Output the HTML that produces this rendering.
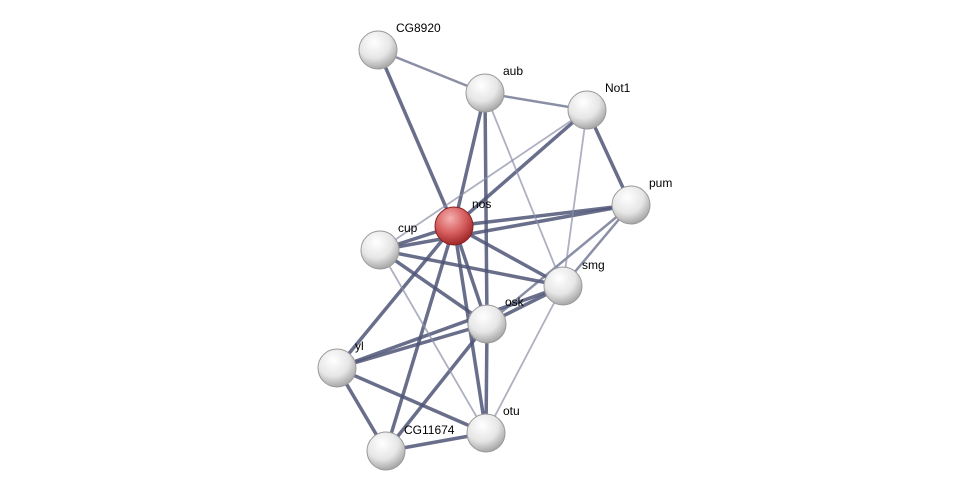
<!DOCTYPE html>
<html><head><meta charset="utf-8"><style>
html,body{margin:0;padding:0;background:#fff;}
svg text{font-family:"Liberation Sans",sans-serif;font-size:12px;fill:#000;}
</style></head><body>
<svg width="976" height="497" viewBox="0 0 976 497" xmlns="http://www.w3.org/2000/svg">
<defs>
<radialGradient id="g" cx="40%" cy="30%" r="70%">
<stop offset="0" stop-color="#ffffff"/><stop offset="0.6" stop-color="#e6e6e6"/><stop offset="1" stop-color="#a8a8a8"/>
</radialGradient>
<radialGradient id="r" cx="40%" cy="30%" r="70%">
<stop offset="0" stop-color="#f4b0b0"/><stop offset="0.55" stop-color="#d86060"/><stop offset="1" stop-color="#a02828"/>
</radialGradient>
</defs>
<g stroke-linecap="round">
<g stroke="#4f5575" stroke-opacity="0.85" stroke-width="3.5">
<line x1="378" y1="50" x2="454" y2="226"/>
<line x1="485" y1="93" x2="454" y2="226"/>
<line x1="485" y1="93" x2="487" y2="324"/>
<line x1="587" y1="110" x2="454" y2="226"/>
<line x1="587" y1="110" x2="631" y2="205"/>
<line x1="631" y1="205" x2="454" y2="226"/>
<line x1="631" y1="205" x2="380" y2="250"/>
<line x1="454" y1="226" x2="380" y2="250"/>
<line x1="454" y1="226" x2="563" y2="286"/>
<line x1="454" y1="226" x2="487" y2="324"/>
<line x1="454" y1="226" x2="337" y2="368"/>
<line x1="454" y1="226" x2="386" y2="451"/>
<line x1="454" y1="226" x2="486" y2="433"/>
<line x1="380" y1="250" x2="563" y2="286"/>
<line x1="380" y1="250" x2="487" y2="324"/>
<line x1="563" y1="286" x2="487" y2="324"/>
<line x1="563" y1="286" x2="337" y2="368"/>
<line x1="487" y1="324" x2="337" y2="368"/>
<line x1="487" y1="324" x2="486" y2="433"/>
<line x1="487" y1="324" x2="386" y2="451"/>
<line x1="337" y1="368" x2="486" y2="433"/>
<line x1="337" y1="368" x2="386" y2="451"/>
<line x1="386" y1="451" x2="486" y2="433"/>
</g>
<g stroke="#5a6080" stroke-opacity="0.7" stroke-width="2.5">
<line x1="378" y1="50" x2="485" y2="93"/>
<line x1="485" y1="93" x2="587" y2="110"/>
<line x1="631" y1="205" x2="563" y2="286"/>
<line x1="631" y1="205" x2="487" y2="324"/>
</g>
<g stroke="#8a8fa8" stroke-opacity="0.7" stroke-width="1.8">
<line x1="485" y1="93" x2="563" y2="286"/>
<line x1="587" y1="110" x2="380" y2="250"/>
<line x1="587" y1="110" x2="563" y2="286"/>
<line x1="380" y1="250" x2="486" y2="433"/>
<line x1="563" y1="286" x2="486" y2="433"/>
</g>
</g>
<g stroke="#999" stroke-width="1">
<circle cx="378" cy="50" r="19" fill="url(#g)"/>
<circle cx="485" cy="93" r="19" fill="url(#g)"/>
<circle cx="587" cy="110" r="19" fill="url(#g)"/>
<circle cx="631" cy="205" r="19" fill="url(#g)"/>
<circle cx="380" cy="250" r="19" fill="url(#g)"/>
<circle cx="563" cy="286" r="19" fill="url(#g)"/>
<circle cx="487" cy="324" r="19" fill="url(#g)"/>
<circle cx="337" cy="368" r="19" fill="url(#g)"/>
<circle cx="486" cy="433" r="19" fill="url(#g)"/>
<circle cx="386" cy="451" r="19" fill="url(#g)"/>
<circle cx="454" cy="226" r="19" fill="url(#r)" stroke="#8a2020"/>
</g>
<text x="396" y="32">CG8920</text>
<text x="503" y="75">aub</text>
<text x="605" y="92">Not1</text>
<text x="649" y="187">pum</text>
<text x="472" y="208">nos</text>
<text x="398" y="232">cup</text>
<text x="582" y="269">smg</text>
<text x="505" y="306">osk</text>
<text x="355" y="350">yl</text>
<text x="503" y="415">otu</text>
<text x="404" y="434">CG11674</text>
</svg>
</body></html>
